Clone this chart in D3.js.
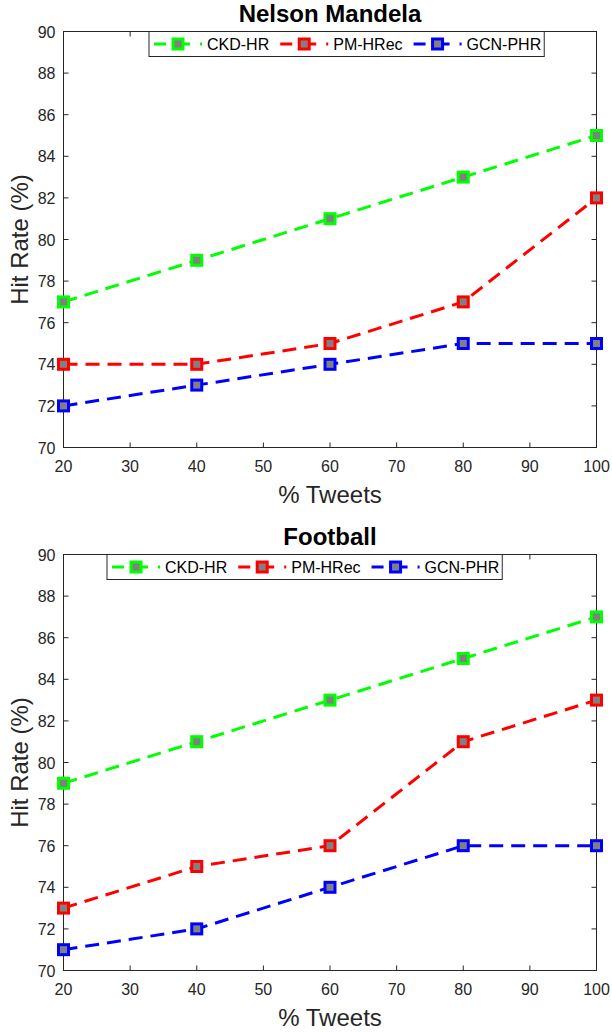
<!DOCTYPE html>
<html>
<head>
<meta charset="utf-8">
<script src="https://d3js.org/d3.v7.min.js"></script>
<style>
  body { margin: 0; background: #fff; }
  svg text { font-family: 'Liberation Sans', Arial, Helvetica, sans-serif; fill: #262626; }
  .title { font-weight: bold; font-size: 24px; fill: #000; }
  .axis-label { font-size: 24px; }
  .tick-label { font-size: 16px; }
  .legend text { font-size: 16px; fill: #000; }
</style>
</head>
<body>
<script>
// data
var tweets = [20, 40, 60, 80, 100];
var seriesNames = ["CKD-HR", "PM-HRec", "GCN-PHR"];
var seriesColors = ["#00ff00", "#ff0000", "#0000ff"];

var mandelaCKD = [77, 79, 81, 83, 85];
var mandelaPM = [74, 74, 75, 77, 82];
var mandelaGCN = [72, 73, 74, 75, 75];

var footballCKD = [79, 81, 83, 85, 87];
var footballPM = [73, 75, 76, 81, 83];
var footballGCN = [71, 72, 74, 76, 76];

var xTicks = [20, 30, 40, 50, 60, 70, 80, 90, 100];
var yTicks = [70, 72, 74, 76, 78, 80, 82, 84, 86, 88, 90];

var panels = [
  { title: "Nelson Mandela", series: [mandelaCKD, mandelaPM, mandelaGCN], top: 31.5, bottom: 447.5, legendX: 149 },
  { title: "Football", series: [footballCKD, footballPM, footballGCN], top: 554.5, bottom: 970.5, legendX: 107 }
];

var W = 612, H = 1032;
var left = 63.5, right = 596.5;
var axisColor = "#262626";

var svg = d3.select("body").append("svg")
  .attr("width", W)
  .attr("height", H);

var x = d3.scaleLinear().domain([20, 100]).range([left, right]);

panels.forEach(function(p) {
  var y = d3.scaleLinear().domain([70, 90]).range([p.bottom, p.top]);
  var g = svg.append("g");

  // box
  g.append("rect")
    .attr("x", left).attr("y", p.top)
    .attr("width", right - left).attr("height", p.bottom - p.top)
    .attr("fill", "none").attr("stroke", axisColor).attr("stroke-width", 1);

  // inward ticks on all four sides
  var tl = 5;
  xTicks.forEach(function(t) {
    g.append("line").attr("x1", x(t)).attr("x2", x(t))
      .attr("y1", p.bottom).attr("y2", p.bottom - tl)
      .attr("stroke", axisColor);
    g.append("line").attr("x1", x(t)).attr("x2", x(t))
      .attr("y1", p.top).attr("y2", p.top + tl)
      .attr("stroke", axisColor);
    g.append("text").attr("class", "tick-label")
      .attr("x", x(t)).attr("y", p.bottom + 24)
      .attr("text-anchor", "middle").text(t);
  });
  yTicks.forEach(function(t) {
    g.append("line").attr("x1", left).attr("x2", left + tl)
      .attr("y1", y(t)).attr("y2", y(t))
      .attr("stroke", axisColor);
    g.append("line").attr("x1", right).attr("x2", right - tl)
      .attr("y1", y(t)).attr("y2", y(t))
      .attr("stroke", axisColor);
    g.append("text").attr("class", "tick-label")
      .attr("x", left - 8).attr("y", y(t) + 6)
      .attr("text-anchor", "end").text(t);
  });

  // axis labels and title
  g.append("text").attr("class", "axis-label")
    .attr("x", (left + right) / 2).attr("y", p.bottom + 55)
    .attr("text-anchor", "middle").text("% Tweets");
  g.append("text").attr("class", "axis-label")
    .attr("transform", "translate(28," + ((p.top + p.bottom) / 2) + ") rotate(-90)")
    .attr("text-anchor", "middle").text("Hit Rate (%)");
  g.append("text").attr("class", "title")
    .attr("x", (left + right) / 2).attr("y", p.top - 9.5)
    .attr("text-anchor", "middle").text(p.title);

  // lines
  var line = d3.line().x(function(d, i) { return x(tweets[i]); }).y(function(d) { return y(d); });
  p.series.forEach(function(s, k) {
    g.append("path").datum(s)
      .attr("d", line)
      .attr("fill", "none")
      .attr("stroke", seriesColors[k])
      .attr("stroke-width", 3)
      .attr("stroke-dasharray", "14,8");
  });
  p.series.forEach(function(s, k) {
    g.selectAll(null).data(s).enter().append("rect")
      .attr("x", function(d, i) { return x(tweets[i]) - 5; })
      .attr("y", function(d) { return y(d) - 5; })
      .attr("width", 10).attr("height", 10)
      .attr("fill", "#808080")
      .attr("stroke", seriesColors[k])
      .attr("stroke-width", 3);
  });

  // legend
  var lg = g.append("g").attr("class", "legend");
  var box = lg.append("rect")
    .attr("x", p.legendX).attr("y", p.top)
    .attr("height", 25).attr("fill", "#fff")
    .attr("stroke", axisColor).attr("stroke-width", 1);
  var cx = p.legendX + 5;
  var ly = p.top + 12.5;
  seriesNames.forEach(function(name, k) {
    lg.append("line").attr("x1", cx).attr("x2", cx + 49)
      .attr("y1", ly).attr("y2", ly)
      .attr("stroke", seriesColors[k]).attr("stroke-width", 3)
      .attr("stroke-dasharray", "12,6,18,10,2,20");
    lg.append("rect").attr("x", cx + 24 - 5).attr("y", ly - 5)
      .attr("width", 10).attr("height", 10)
      .attr("fill", "#808080").attr("stroke", seriesColors[k]).attr("stroke-width", 3);
    var t = lg.append("text").attr("x", cx + 53).attr("y", p.top + 18.5).text(name);
    cx = cx + 53 + t.node().getComputedTextLength() + 11;
  });
  box.attr("width", cx - p.legendX - 8);
});
</script>
</body>
</html>
